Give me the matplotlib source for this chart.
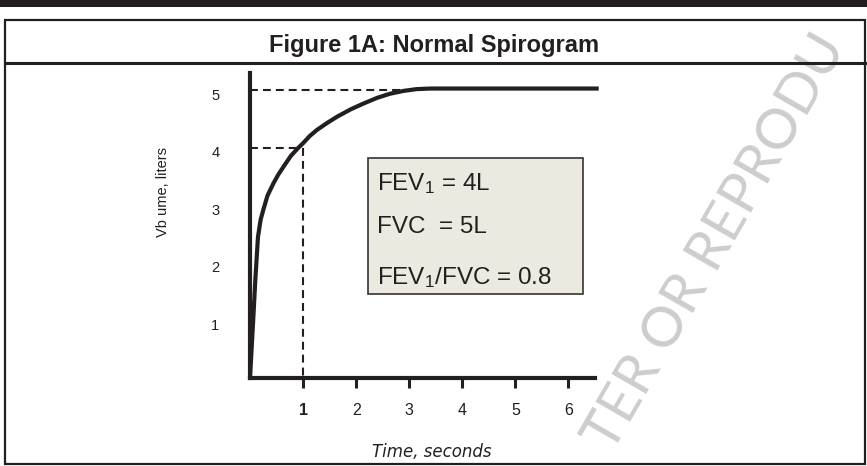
import matplotlib
matplotlib.use("Agg")
import matplotlib.pyplot as plt
import matplotlib.transforms as mtransforms
from matplotlib.patches import Rectangle
from matplotlib.lines import Line2D

# spirogram
time_s = [0, 0.03, 0.06, 0.10, 0.15, 0.20, 0.25, 0.33, 0.44, 0.53, 0.63, 0.77, 0.91, 1.0,
          1.12, 1.26, 1.45, 1.64, 1.9, 2.14, 2.4, 2.64, 2.9, 3.14, 3.4, 6.57]
volume_l = [0, 0.5, 1.0, 1.7, 2.45, 2.75, 2.92, 3.17, 3.38, 3.53, 3.67, 3.86, 4.0, 4.08,
            4.2, 4.31, 4.43, 4.54, 4.67, 4.77, 4.87, 4.94, 4.99, 5.02, 5.03, 5.03]

fev1_time = 1
fev1 = 4
fvc = 5
fvc_time = 2.92

x_ticks = [1, 2, 3, 4, 5, 6]
y_ticks = [1, 2, 3, 4, 5]
box_lines = ['FEV$_1$ = 4L', 'FVC  = 5L', 'FEV$_1$/FVC = 0.8']

W, H = 867, 466
ink = '#231f20'

plt.rcParams['mathtext.default'] = 'regular'

fig = plt.figure(figsize=(W / 100, H / 100), dpi=100)


def fx(x):
    return x / W


def fy(y):
    return 1 - y / H


# page decoration: top band, frame, title bar
fig.add_artist(Rectangle((0, fy(7)), 1, 7 / H, transform=fig.transFigure,
                         facecolor=ink, edgecolor='none'))
fig.add_artist(Rectangle((fx(5), fy(464)), fx(860), (464 - 20) / H, transform=fig.transFigure,
                         facecolor='none', edgecolor=ink, linewidth=1.6))
fig.add_artist(Line2D([fx(5), fx(865)], [fy(62.5), fy(62.5)], transform=fig.transFigure,
                      color=ink, linewidth=2.2))

fig.text(fx(434), fy(52), 'Figure 1A: Normal Spirogram', ha='center', va='baseline',
         family=['Liberation Sans', 'DejaVu Sans'], fontweight='bold', fontsize=17,
         color=ink)

# watermark, behind the chart
fig.text(fx(612), fy(454), 'TER OR REPRODU', rotation=60, rotation_mode='anchor',
         ha='left', va='baseline', family=['Lato', 'DejaVu Sans'], fontweight='normal',
         fontsize=40, color='#cdcdcd', zorder=-1)

ax = fig.add_axes([fx(250), fy(378), 345 / W, 305 / H])
ax.set_facecolor('none')
ax.set_xlim(0, 6.5)
ax.set_ylim(0, 5.3)

ax.plot(time_s, volume_l, color=ink, linewidth=3, solid_joinstyle='round',
        solid_capstyle='butt', clip_on=False, zorder=4)

dash = dict(color=ink, linewidth=1.5, dashes=(3.8, 2.4), zorder=3)
ax.plot([0, fvc_time], [fvc, fvc], **dash)
ax.plot([0, fev1_time - 0.08], [fev1, fev1], **dash)
ax.plot([fev1_time, fev1_time], [fev1, 0], **dash)

for side in ['top', 'right']:
    ax.spines[side].set_visible(False)
for side in ['left', 'bottom']:
    ax.spines[side].set_linewidth(3)
    ax.spines[side].set_color(ink)
    ax.spines[side].set_capstyle('projecting')

ax.set_xticks(x_ticks)
ax.set_xticklabels([str(t) for t in x_ticks], family=['Liberation Sans', 'DejaVu Sans'],
                   fontsize=11.5, color=ink)
ax.get_xticklabels()[0].set_fontweight('bold')
ax.tick_params(axis='x', direction='out', length=7, width=2.2, color=ink, pad=11)

ax.set_yticks(y_ticks)
ax.set_yticklabels([str(t) for t in y_ticks], family=['Liberation Sans', 'DejaVu Sans'],
                   fontsize=10.5, color=ink)
ax.tick_params(axis='y', length=0, pad=22)
shift = mtransforms.ScaledTranslation(0, -4 / 100, fig.dpi_scale_trans)
for lab in ax.get_yticklabels():
    lab.set_transform(lab.get_transform() + shift)

# axis titles placed in figure pixels
fig.text(fx(163), fy(192), 'Vb ume, liters', rotation=90, ha='center', va='center',
         family=['Liberation Sans', 'DejaVu Sans'], fontsize=10.5, color=ink)
fig.text(fx(432), fy(457), 'Time, seconds', ha='center', va='baseline',
         family=['DejaVu Sans'], style='italic', fontsize=12, color=ink)

# result box
fig.add_artist(Rectangle((fx(368), fy(294)), 215 / W, 136 / H, transform=fig.transFigure,
                         facecolor='#ece9e0', edgecolor='#333333', linewidth=1.2, zorder=5))
for txt, base in zip(box_lines, [190, 233, 284]):
    fig.text(fx(377), fy(base), txt, ha='left', va='baseline',
             family=['Liberation Sans', 'DejaVu Sans'], fontsize=17.5, color=ink, zorder=6)

fig.savefig('out.png', dpi=100)
